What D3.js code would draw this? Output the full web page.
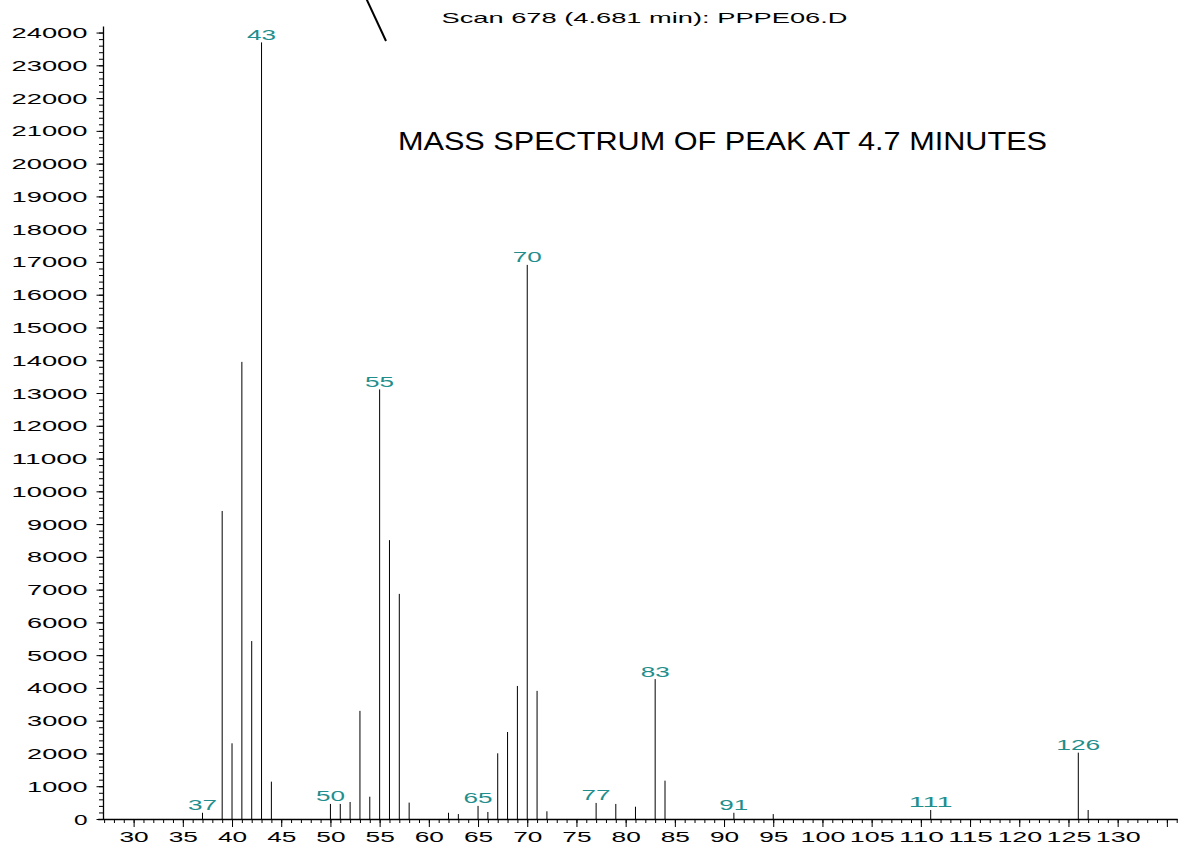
<!DOCTYPE html>
<html>
<head>
<meta charset="utf-8">
<script src="https://cdn.jsdelivr.net/npm/d3@7/dist/d3.min.js"></script>
<style>
  html, body { margin: 0; padding: 0; background: #ffffff; }
  svg { display: block; }
</style>
</head>
<body>
<script>
// ---- data ----
const mz = [37, 39, 40, 41, 42, 43, 44, 50, 51, 52, 53, 54, 55, 56, 57, 58,
            62, 63, 65, 66, 67, 68, 69, 70, 71, 72, 77, 79, 81, 83, 84, 91,
            95, 111, 126, 127];
const abundance = [190, 9400, 2310, 13950, 5430, 23700, 1140, 460, 460, 520, 3300, 680, 13110, 8510, 6870, 500,
                   190, 150, 400, 215, 2005, 2655, 4060, 16910, 3910, 235, 490, 460, 375, 4270, 1170, 190,
                   150, 275, 2025, 275];
const labeledPeaks = [37, 43, 50, 55, 65, 70, 77, 83, 91, 111, 126];
const yTickValues = d3.range(0, 24001, 1000);
const xMajorTicks = d3.range(30, 136, 5);
const xLabelMax = 130;
const titleText = "MASS SPECTRUM OF PEAK AT 4.7 MINUTES";
const scanText = "Scan 678 (4.681 min): PPPE06.D";

// ---- layout ----
const W = 1178, H = 846;
const svg = d3.select("body").append("svg").attr("width", W).attr("height", H);

const x = d3.scaleLinear().domain([26.35, 136.05]).range([97.7, 1177.2]);
const y = d3.scaleLinear().domain([0, 24200]).range([819, 26]);
const yAxisX = 103;

const FONT = "'Liberation Sans', Arial, sans-serif";
const TEAL = "#1f8e8c";

// ---- bars ----
const peaks = mz.map((m, i) => ({ m, v: abundance[i] }));
svg.append("g").selectAll("line").data(peaks).join("line")
  .attr("x1", d => x(d.m)).attr("x2", d => x(d.m))
  .attr("y1", y(0)).attr("y2", d => y(d.v))
  .attr("stroke", "#000").attr("stroke-width", 1);

// ---- peak labels ----
svg.append("g").selectAll("text").data(peaks.filter(d => labeledPeaks.includes(d.m))).join("text")
  .attr("x", d => x(d.m)).attr("y", d => y(d.v) - 2.5)
  .attr("text-anchor", "middle")
  .attr("font-family", FONT).attr("font-size", 15)
  .attr("fill", TEAL)
  .attr("textLength", d => String(d.m).length * 15 - 1)
  .attr("lengthAdjust", "spacingAndGlyphs")
  .text(d => d.m);

// ---- y axis ----
const gy = svg.append("g").attr("transform", `translate(${yAxisX},0)`);
gy.call(d3.axisLeft(y).tickValues(d3.range(0, 24001, 200)).tickSize(4).tickFormat("").tickSizeOuter(0))
  .call(g => g.select(".domain").attr("stroke", "#000").attr("stroke-width", 1.3))
  .call(g => g.selectAll(".tick line").attr("stroke", "#000"));
const gy2 = svg.append("g").attr("transform", `translate(${yAxisX},0)`);
gy2.call(d3.axisLeft(y).tickValues(yTickValues).tickSize(6.5).tickPadding(9).tickSizeOuter(0)
      .tickFormat(d3.format("d")))
  .call(g => g.select(".domain").remove())
  .call(g => g.selectAll(".tick line").attr("stroke", "#000"))
  .call(g => g.selectAll(".tick text")
    .attr("font-family", FONT).attr("font-size", 14).attr("fill", "#000")
    .attr("dy", "0.36em")
    .attr("textLength", d => String(d).length * 15.6 - 2)
    .attr("lengthAdjust", "spacingAndGlyphs"));

// ---- x axis ----
const gx = svg.append("g").attr("transform", `translate(0,${y(0)})`);
gx.call(d3.axisBottom(x).tickValues(d3.range(27, 137, 1)).tickSize(4).tickFormat("").tickSizeOuter(0))
  .call(g => g.select(".domain").attr("stroke", "#000").attr("stroke-width", 1.3))
  .call(g => g.selectAll(".tick line").attr("stroke", "#000"));
const gx2 = svg.append("g").attr("transform", `translate(0,${y(0)})`);
gx2.call(d3.axisBottom(x).tickValues(xMajorTicks).tickSize(8).tickSizeOuter(0)
      .tickFormat(d => d <= xLabelMax ? String(d) : ""))
  .call(g => g.select(".domain").remove())
  .call(g => g.selectAll(".tick line").attr("stroke", "#000"))
  .call(g => g.selectAll(".tick text")
    .attr("font-family", FONT).attr("font-size", 14).attr("fill", "#000")
    .attr("y", 13.5).attr("dy", "0.71em")
    .attr("textLength", d => d <= xLabelMax ? String(d).length * 15.6 - 2 : null)
    .attr("lengthAdjust", "spacingAndGlyphs"));

// ---- header texts ----
svg.append("line")
  .attr("x1", 366).attr("y1", -2).attr("x2", 386).attr("y2", 41)
  .attr("stroke", "#000").attr("stroke-width", 2);

svg.append("text")
  .attr("x", 441.5).attr("y", 23)
  .attr("font-family", FONT).attr("font-size", 15).attr("fill", "#000")
  .attr("textLength", 406).attr("lengthAdjust", "spacingAndGlyphs")
  .text(scanText);

svg.append("text")
  .attr("x", 398).attr("y", 150)
  .attr("font-family", FONT).attr("font-size", 25).attr("fill", "#000")
  .attr("textLength", 649).attr("lengthAdjust", "spacingAndGlyphs")
  .text(titleText);
</script>
</body>
</html>
